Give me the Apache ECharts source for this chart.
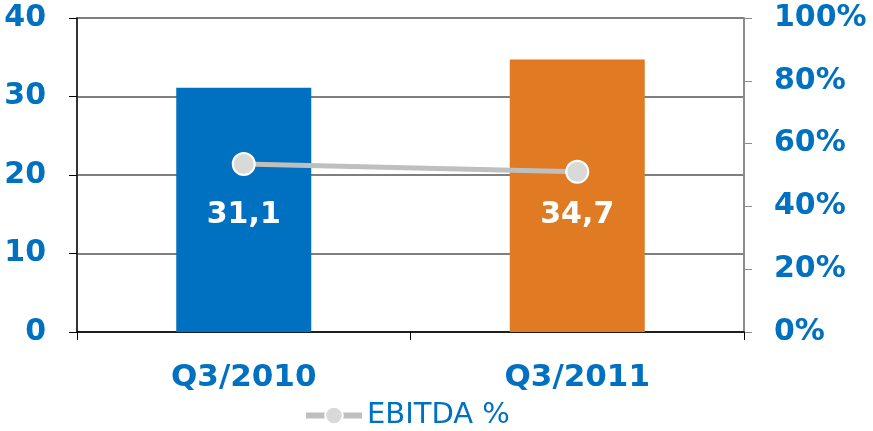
<!DOCTYPE html>
<html>
<head>
<meta charset="utf-8">
<script src="https://cdn.jsdelivr.net/npm/echarts@6/dist/echarts.min.js"></script>
<style>
  html, body { margin: 0; padding: 0; background: #fff; }
  #main { width: 873px; height: 431px; }
</style>
</head>
<body>
<div id="main"></div>
<script>
var categories = ['Q3/2010', 'Q3/2011'];
var revenue = [31.1, 34.7];
var ebitdaPct = [53.5, 51];
var barColors = ['#0070C0', '#E07B24'];

var myChart = echarts.init(document.getElementById('main'));
var font = 'DejaVu Sans';

myChart.setOption({
	animation: false,
	grid: { left: 77, right: 129, top: 18, bottom: 99 },
	legend: {
		data: ['EBITDA %'],
		bottom: -4,
		left: 298,
		itemWidth: 56,
		itemHeight: 22,
		itemGap: 6,
		lineStyle: { width: 6, color: '#BFBFBF' },
		textStyle: { color: '#0070C0', fontFamily: font, fontSize: 29 }
	},
	xAxis: {
		type: 'category',
		data: categories,
		axisLine: { lineStyle: { color: '#000', width: 1.5 } },
		axisTick: { show: true, length: 8, lineStyle: { color: '#000' } },
		axisLabel: { color: '#0070C0', fontFamily: font, fontWeight: 'bold', fontSize: 31, margin: 30 }
	},
	yAxis: [{
		type: 'value',
		min: 0, max: 40, interval: 10,
		axisLine: { show: true, lineStyle: { color: '#333', width: 2 } },
		axisTick: { show: true, length: 8, lineStyle: { color: '#000' } },
		splitLine: { lineStyle: { color: '#555', width: 1.5 } },
		axisLabel: { color: '#0070C0', fontFamily: font, fontWeight: 'bold', fontSize: 30, margin: 31 }
	}, {
		type: 'value',
		min: 0, max: 100, interval: 20,
		position: 'right',
		axisLine: { show: true, lineStyle: { color: '#8c8c8c', width: 2 } },
		axisTick: { show: true, length: 8, lineStyle: { color: '#8c8c8c' } },
		splitLine: { show: false },
		axisLabel: {
			color: '#0070C0', fontFamily: font, fontWeight: 'bold', fontSize: 30, margin: 30,
			formatter: '{value}%'
		}
	}],
	series: [{
		name: 'Revenue',
		type: 'bar',
		barWidth: 135,
		data: revenue.map(function (v, i) {
			return { value: v, itemStyle: { color: barColors[i] } };
		}),
		label: {
			show: true,
			position: 'insideBottom',
			distance: 102,
			color: '#fff',
			fontFamily: font,
			fontWeight: 'bold',
			fontSize: 30,
			formatter: function (p) { return String(p.value).replace('.', ','); }
		}
	}, {
		name: 'EBITDA %',
		type: 'line',
		yAxisIndex: 1,
		data: ebitdaPct,
		symbol: 'circle',
		symbolSize: 22,
		lineStyle: { color: '#BFBFBF', width: 5 },
		itemStyle: { color: '#D9D9D9', borderColor: '#fff', borderWidth: 2 },
		z: 5
	}]
});
</script>
</body>
</html>
